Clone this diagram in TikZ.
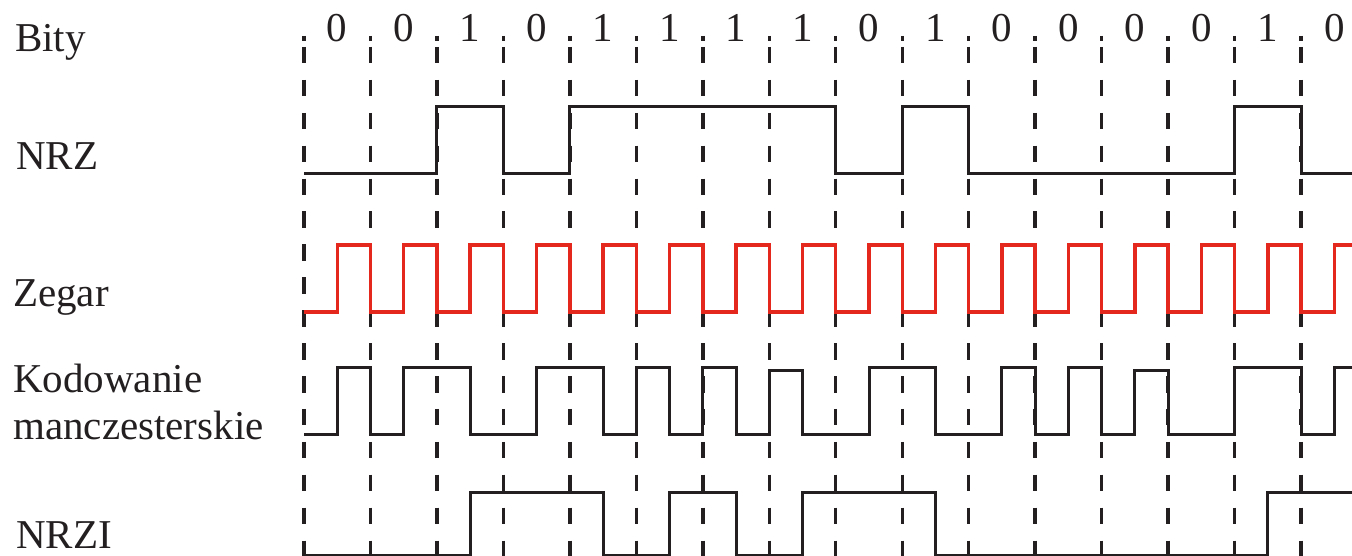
\documentclass[tikz,border=0pt]{standalone}
\usepackage{fontspec}
\setmainfont{Liberation Serif}
\definecolor{ink}{RGB}{35,31,32}
\definecolor{clk}{RGB}{228,40,30}
\begin{document}
\begin{tikzpicture}[x=1pt,y=-1pt,
  lbl/.style={font=\fontsize{41}{47}\selectfont, text=ink, inner sep=0pt, anchor=base west},
  bitlbl/.style={font=\fontsize{41}{47}\selectfont, text=ink, inner sep=0pt, anchor=base},
  gridline/.style={draw=ink, line width=3.4pt, dash pattern=on 16.5pt off 16.4pt},
  gridtick/.style={draw=ink, line width=3.4pt},
  sig/.style={draw=ink, line width=3pt, line join=miter},
  clock/.style={draw=clk, line width=3.4pt, line join=miter}]
\useasboundingbox (0,0) rectangle (1352,556);
\fill[white] (0,0) rectangle (1352,556);

% row labels
\node[lbl] (bity)   at (15,52)  {Bity};
\node[lbl] (nrz)    at (16,170) {NRZ};
\node[lbl] (zegar)  at (13,306) {Zegar};
\node[lbl] (manchA) at (13,392) {Kodowanie};
\node[lbl] (manchB) at (13,439) {manczesterskie};
\node[lbl] (nrzi)   at (16,548) {NRZI};

% bit values
\foreach \b [count=\i from 0] in {0,0,1,0,1,1,1,1,0,1,0,0,0,0,1,0}
  \node[bitlbl] (b\i) at ({304+66.47*(\i+0.5)},42) {\b};

% dashed bit boundaries
\foreach \k in {0,...,15}{
  \draw[gridline] ({304+66.47*\k},47) -- ({304+66.47*\k},560);
  \draw[gridtick] ({304+66.47*\k},36) -- ({304+66.47*\k},41);
}

\begin{scope}[shift={(304,0)}, x=66.47pt]
  % NRZ
  \draw[sig] (0,174) -- (2,174) -- (2,107) -- (3,107) -- (3,174) -- (4,174)
    -- (4,107) -- (8,107) -- (8,174) -- (9,174) -- (9,107) -- (10,107)
    -- (10,174) -- (14,174) -- (14,107) -- (15,107) -- (15,174) -- (15.9,174);
  % clock
  \draw[clock] (0,312) foreach \k in {0,...,15}{
      -- (\k+0.5,312) -- (\k+0.5,245) -- (\k+1,245) -- (\k+1,312) };
  % Manchester
  \draw[sig] (0,434) -- (0.5,434) -- (0.5,367) -- (1,367) -- (1,434)
    -- (1.5,434) -- (1.5,367) -- (2.5,367) -- (2.5,434) -- (3.5,434)
    -- (3.5,367) -- (4.5,367) -- (4.5,434) -- (5,434) -- (5,367)
    -- (5.5,367) -- (5.5,434) -- (6,434) -- (6,367) -- (6.5,367)
    -- (6.5,434) -- (7,434) -- (7,370) -- (7.5,370) -- (7.5,434)
    -- (8.5,434) -- (8.5,367) -- (9.5,367) -- (9.5,434) -- (10.5,434)
    -- (10.5,367) -- (11,367) -- (11,434) -- (11.5,434) -- (11.5,367)
    -- (12,367) -- (12,434) -- (12.5,434) -- (12.5,370) -- (13,370)
    -- (13,434) -- (14,434) -- (14,367) -- (15,367) -- (15,434)
    -- (15.5,434) -- (15.5,367) -- (15.9,367);
  % NRZI
  \draw[sig] (0,555) -- (2.5,555) -- (2.5,492) -- (4.5,492) -- (4.5,555)
    -- (5.5,555) -- (5.5,492) -- (6.5,492) -- (6.5,555) -- (7.5,555)
    -- (7.5,492) -- (9.5,492) -- (9.5,555) -- (14.5,555) -- (14.5,492)
    -- (15.9,492);
\end{scope}
\end{tikzpicture}
\end{document}
